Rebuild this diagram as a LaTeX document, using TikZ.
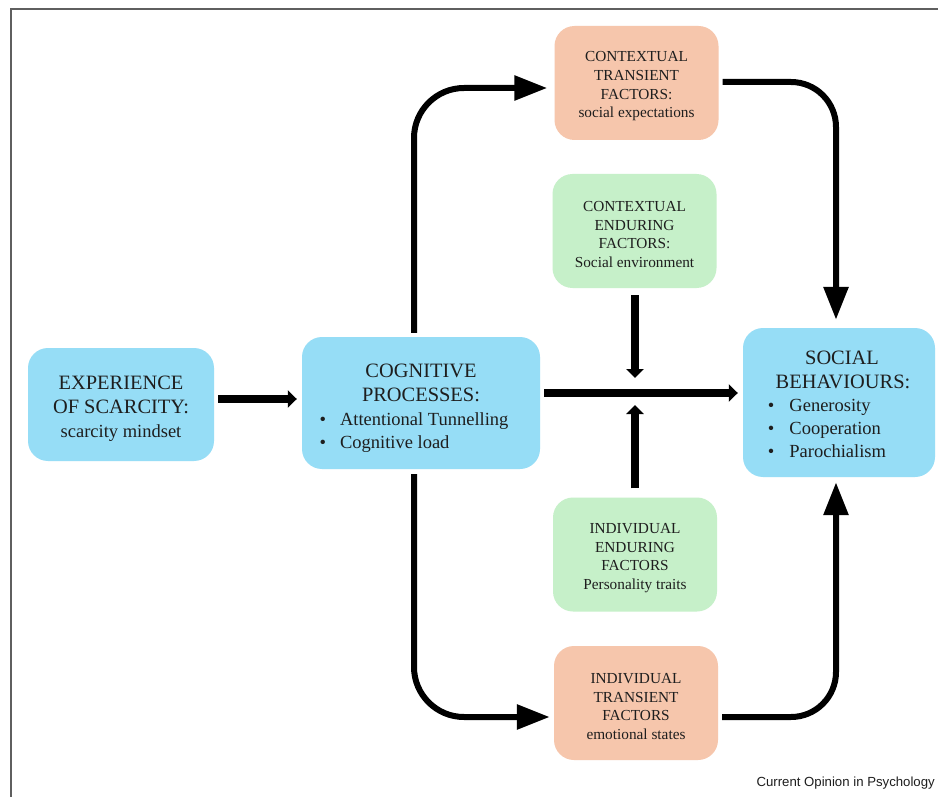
\documentclass[tikz,border=0pt]{standalone}
\usepackage{fontspec}
\setmainfont{Liberation Serif}
\newfontfamily\capfont{Liberation Sans}
\usetikzlibrary{arrows.meta}
\definecolor{boxblue}{RGB}{150,221,246}
\definecolor{boxorange}{RGB}{246,198,172}
\definecolor{boxgreen}{RGB}{198,240,201}
\definecolor{txt}{RGB}{30,30,30}
\definecolor{framegray}{RGB}{95,95,95}
\newcommand{\subfont}{\fontsize{18.5}{23}\selectfont}
\newcommand{\tstrut}[1]{\rule{0pt}{#1}}
\tikzset{
  basebox/.style={rectangle, rounded corners=20pt, inner sep=0pt, align=center, text=txt},
  bluebox/.style={basebox, fill=boxblue, font=\fontsize{20.4}{24}\selectfont},
  orangebox/.style={basebox, fill=boxorange, minimum width=164pt, minimum height=114pt,
     font=\fontsize{15.3}{18.6}\selectfont},
  greenbox/.style={basebox, fill=boxgreen, minimum width=164pt, minimum height=114pt,
     font=\fontsize{15.3}{18.6}\selectfont},
  bigarrow/.style={line width=6pt, -{Triangle[length=33pt,width=24pt]}},
  smallarrow/.style={line width=8.5pt, -{Triangle[length=9pt,width=17pt]}},
}
\begin{document}
\begin{tikzpicture}[x=1pt,y=1pt]
\useasboundingbox (0,0) rectangle (938,-797);
\fill[white] (0,0) rectangle (938,-797);
\draw[framegray, line width=1.5pt] (938,-9) -- (11,-9) -- (11,-797);

% nodes
\node[bluebox, minimum width=186pt, minimum height=113pt] (exp) at (121,-404.5)
  {\tstrut{22.5pt}EXPERIENCE\\ OF SCARCITY:\\ {\subfont scarcity mindset}};

\node[bluebox, minimum width=238pt, minimum height=132pt] (cog) at (421,-403)
  {\tstrut{27pt}COGNITIVE\\ PROCESSES:\\[0pt]
   {\subfont\begin{tabular}[t]{@{}l@{\hspace{14pt}}l@{}}\textbullet & Attentional Tunnelling\\ \textbullet & Cognitive load\end{tabular}}\hspace*{14pt}};

\node[bluebox, minimum width=192pt, minimum height=149pt] (sb) at (839,-402.5)
  {\tstrut{23.5pt}\hspace*{6pt}SOCIAL\\ \hspace*{8pt}BEHAVIOURS:\\[-1pt]
   {\subfont\begin{tabular}[t]{@{}l@{\hspace{15pt}}l@{}}\textbullet & Generosity\\ \textbullet & Cooperation\\ \textbullet & Parochialism\end{tabular}}\hspace*{24pt}};

\node[orangebox] (ct) at (636.5,-83) {\tstrut{17pt}CONTEXTUAL\\ TRANSIENT\\ FACTORS:\\ social expectations};
\node[greenbox] (ce) at (634.5,-231) {\tstrut{17pt}CONTEXTUAL\\ ENDURING\\ FACTORS:\\ Social environment};
\node[greenbox] (ie) at (635,-554.5) {\tstrut{17pt}INDIVIDUAL\\ ENDURING\\ FACTORS\\ Personality traits};
\node[orangebox] (it) at (636,-703) {\tstrut{17pt}INDIVIDUAL\\ TRANSIENT\\ FACTORS\\ emotional states};

\coordinate (mid) at (635,-393);

% connectors
\draw[smallarrow, shorten <=4pt, shorten >=5pt] (exp.east |- 0,-399) -- (cog.west |- 0,-399);
\draw[smallarrow, shorten <=4pt, shorten >=5pt] (cog.east |- mid) -- (sb.west |- mid);
\draw[smallarrow, shorten <=7pt, shorten >=15pt] (ce.south -| mid) -- (mid);
\draw[smallarrow, shorten <=9pt, shorten >=12pt] (ie.north -| mid) -- (mid);

\draw[bigarrow, rounded corners=50pt, shorten <=4pt, shorten >=7pt]
  (cog.north -| 414,0) |- (ct.west |- 0,-88);
\draw[bigarrow, rounded corners=50pt, shorten <=5pt, shorten >=4pt]
  (cog.south -| 414,0) |- (it.west |- 0,-717);
\draw[bigarrow, rounded corners=45pt, shorten <=4pt, shorten >=8pt]
  (ct.east |- 0,-82) -| (sb.north -| 836,0);
\draw[bigarrow, rounded corners=45pt, shorten <=4pt, shorten >=5pt]
  (it.east |- 0,-717) -| (sb.south -| 836,0);

\node[anchor=base east, text=txt, font=\capfont\fontsize{13.2}{15}\selectfont, inner sep=0pt] (cap) at (935,-786) {Current Opinion in Psychology};
\end{tikzpicture}
\end{document}
